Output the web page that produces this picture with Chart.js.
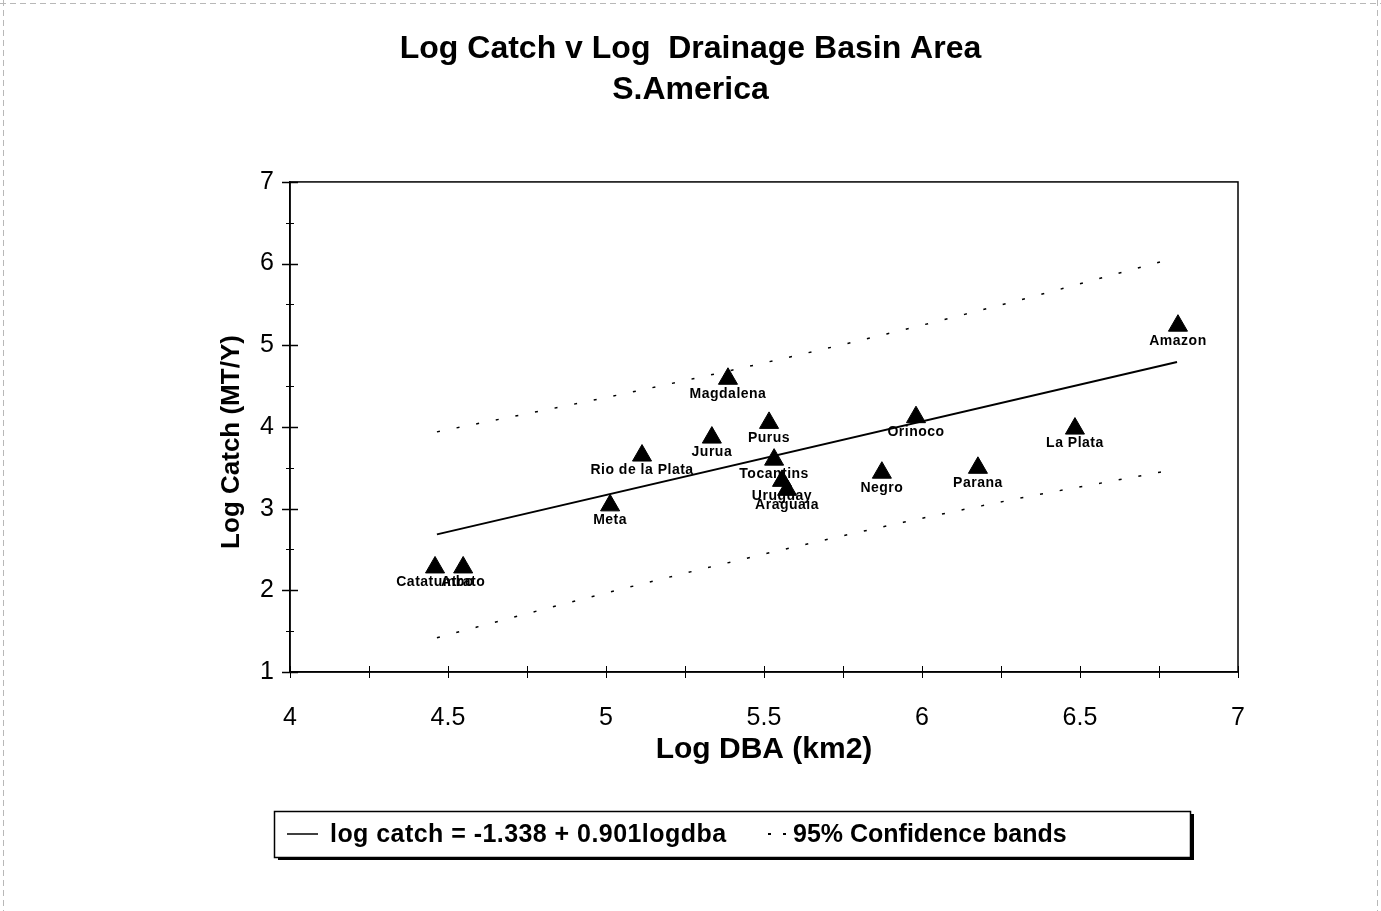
<!DOCTYPE html>
<html>
<head>
<meta charset="utf-8">
<script src="https://cdn.jsdelivr.net/npm/chart.js@4/dist/chart.umd.min.js"></script>
<style>
  html, body { margin: 0; padding: 0; background: #ffffff; }
  #wrap { width: 1381px; height: 911px; position: relative; }
  canvas { display: block; }
</style>
</head>
<body>
<div id="wrap"><canvas id="c" width="1381" height="911"></canvas></div>
<script>
// ---- Data ----
const riverNames = ['Catatumbo', 'Atrato', 'Meta', 'Rio de la Plata', 'Jurua', 'Magdalena', 'Purus',
  'Tocantins', 'Uruguay', 'Araguaia', 'Negro', 'Orinoco', 'Parana', 'La Plata', 'Amazon'];
const logDBA   = [4.459, 4.548, 5.013, 5.114, 5.335, 5.386, 5.516, 5.532, 5.557, 5.573, 5.873, 5.981, 6.177, 6.484, 6.810];
const logCatch = [2.28, 2.28, 3.04, 3.65, 3.87, 4.59, 4.05, 3.60, 3.34, 3.23, 3.44, 4.12, 3.50, 3.98, 5.24];

const fitX = [4.465, 6.807];
const fitY = [2.685, 4.795];

const upperBandX = [4.465, 5.085, 5.718, 6.247, 6.753];
const upperBandY = [3.94, 4.43, 4.98, 5.49, 6.02];
const lowerBandX = [4.465, 5.013, 5.718, 6.247, 6.759];
const lowerBandY = [1.42, 1.98, 2.64, 3.08, 3.45];

const xTickLabels = ['4', '4.5', '5', '5.5', '6', '6.5', '7'];
const yTickLabels = ['1', '2', '3', '4', '5', '6', '7'];

const titleLines = ['Log Catch v Log  Drainage Basin Area', 'S.America'];
const xAxisTitle = 'Log DBA (km2)';
const yAxisTitle = 'Log Catch (MT/Y)';
const legendLabels = ['log catch = -1.338 + 0.901logdba', '95% Confidence bands'];

const xRange = [4, 7];
const yRange = [1, 7];

// ---- helpers ----
const toPts = (xs, ys) => xs.map((x, i) => ({ x: x, y: ys[i] }));
const FONT = "'Liberation Sans', Arial, Helvetica, sans-serif";

// frame, tick marks, point labels, axis title, legend
const decorPlugin = {
  id: 'decor',
  afterDatasetsDraw(chart) {
    const { ctx, chartArea: a, scales: { x, y } } = chart;
    ctx.save();
    // plot frame
    ctx.strokeStyle = '#000';
    ctx.lineWidth = 1.5;
    ctx.strokeRect(a.left, a.top, a.right - a.left, a.bottom - a.top);
    // x tick marks (major 0.5, minor 0.25), crossing the axis
    ctx.lineWidth = 1;
    for (let v = xRange[0]; v <= xRange[1] + 1e-9; v += 0.25) {
      const px = Math.round(x.getPixelForValue(v)) + 0.5;
      ctx.beginPath();
      ctx.moveTo(px, a.bottom - 6);
      ctx.lineTo(px, a.bottom + 6);
      ctx.stroke();
    }
    // y tick marks (major 1, minor 0.5)
    for (let v = yRange[0]; v <= yRange[1] + 1e-9; v += 0.5) {
      const py = Math.round(y.getPixelForValue(v)) + 0.5;
      const major = Math.abs(v - Math.round(v)) < 1e-9;
      const len = major ? 8 : 4;
      ctx.lineWidth = major ? 1.5 : 1;
      ctx.beginPath();
      ctx.moveTo(a.left - len, py);
      ctx.lineTo(a.left + len, py);
      ctx.stroke();
    }
    // point labels
    const meta = chart.getDatasetMeta(0);
    ctx.fillStyle = '#000';
    ctx.font = 'bold 14px ' + FONT;
    ctx.textAlign = 'center';
    ctx.textBaseline = 'middle';
    try { ctx.letterSpacing = '0.5px'; } catch (e) {}
    meta.data.forEach((el, i) => {
      ctx.fillText(riverNames[i], el.x, el.y + 15);
    });
    try { ctx.letterSpacing = '0px'; } catch (e) {}
    // y axis title (rotated)
    ctx.save();
    ctx.translate(232, 442);
    ctx.rotate(-Math.PI / 2);
    ctx.font = 'bold 26px ' + FONT;
    ctx.textAlign = 'center';
    ctx.textBaseline = 'middle';
    ctx.fillText(yAxisTitle, 0, 0);
    ctx.restore();
    ctx.restore();
  },
  afterDraw(chart) {
    const { ctx } = chart;
    ctx.save();
    // scan-like faint page border
    ctx.strokeStyle = '#b8b8b8';
    ctx.lineWidth = 1;
    ctx.setLineDash([6, 4]);
    ctx.beginPath();
    ctx.moveTo(0, 3.5); ctx.lineTo(1381, 3.5);
    ctx.moveTo(3.5, 0); ctx.lineTo(3.5, 911);
    ctx.moveTo(1377.5, 0); ctx.lineTo(1377.5, 911);
    ctx.stroke();
    ctx.setLineDash([]);
    // legend box with shadow
    const bx = 274, by = 811, bw = 916, bh = 46;
    ctx.fillStyle = '#000';
    ctx.fillRect(bx + 4, by + 3, bw, bh);
    ctx.fillStyle = '#fff';
    ctx.fillRect(bx, by, bw, bh);
    ctx.strokeStyle = '#000';
    ctx.lineWidth = 1.5;
    ctx.strokeRect(bx + 0.5, by + 0.5, bw, bh);
    const cy = by + bh / 2;
    // solid line sample
    ctx.lineWidth = 1.5;
    ctx.beginPath();
    ctx.moveTo(287, cy); ctx.lineTo(318, cy);
    ctx.stroke();
    ctx.font = 'bold 25px ' + FONT;
    ctx.fillStyle = '#000';
    ctx.textAlign = 'left';
    ctx.textBaseline = 'middle';
    try { ctx.letterSpacing = '0.45px'; } catch (e) {}
    ctx.fillText(legendLabels[0], 330, cy + 1);
    try { ctx.letterSpacing = '0px'; } catch (e) {}
    // dotted sample
    ctx.fillRect(768, cy - 1, 3, 2);
    ctx.fillRect(783, cy - 1, 3, 2);
    ctx.fillText(legendLabels[1], 793, cy + 1);
    ctx.restore();
  }
};

new Chart(document.getElementById('c'), {
  type: 'scatter',
  data: {
    datasets: [
      {
        label: 'Rivers',
        data: toPts(logDBA, logCatch),
        pointStyle: 'triangle',
        pointRadius: 11,
        pointHoverRadius: 11,
        backgroundColor: '#000',
        borderColor: '#000',
        borderWidth: 1,
        showLine: false
      },
      {
        label: legendLabels[0],
        data: toPts(fitX, fitY),
        showLine: true,
        borderColor: '#000',
        borderWidth: 2,
        pointRadius: 0,
        fill: false
      },
      {
        label: legendLabels[1],
        data: toPts(upperBandX, upperBandY),
        showLine: true,
        borderColor: '#000',
        borderWidth: 1.5,
        borderDash: [3, 17],
        pointRadius: 0,
        cubicInterpolationMode: 'monotone',
        fill: false
      },
      {
        label: legendLabels[1] + ' (lower)',
        data: toPts(lowerBandX, lowerBandY),
        showLine: true,
        borderColor: '#000',
        borderWidth: 1.5,
        borderDash: [3, 17],
        pointRadius: 0,
        cubicInterpolationMode: 'monotone',
        fill: false
      }
    ]
  },
  options: {
    responsive: false,
    animation: false,
    devicePixelRatio: 1,
    layout: { padding: { left: 0, right: 0, top: 0, bottom: 139 } },
    plugins: {
      legend: { display: false },
      tooltip: { enabled: false },
      title: {
        display: true,
        text: titleLines,
        color: '#000',
        font: { family: FONT, size: 32, weight: 'bold', lineHeight: 1.28 },
        padding: { top: 29, bottom: 71 }
      }
    },
    scales: {
      x: {
        type: 'linear',
        min: xRange[0], max: xRange[1],
        ticks: {
          stepSize: 0.5,
          color: '#000',
          font: { family: FONT, size: 25 },
          padding: 31,
          maxRotation: 0,
          autoSkip: false,
          callback: (v, i) => xTickLabels[i]
        },
        grid: { display: true, drawOnChartArea: false, drawTicks: false },
        border: { display: true, color: '#000', width: 1.5 },
        title: {
          display: true,
          text: xAxisTitle,
          color: '#000',
          font: { family: FONT, size: 30, weight: 'bold', lineHeight: 1.2 },
          padding: { top: 0, bottom: 4 }
        },
        afterFit(scale) { scale.height = 100; }
      },
      y: {
        type: 'linear',
        min: yRange[0], max: yRange[1],
        ticks: {
          stepSize: 1,
          color: '#000',
          font: { family: FONT, size: 25 },
          padding: 16,
          callback: (v, i) => yTickLabels[i]
        },
        grid: { display: true, drawOnChartArea: false, drawTicks: false },
        border: { display: true, color: '#000', width: 1.5 },
        title: { display: false },
        afterFit(scale) { scale.width = 290; }
      },
      yRight: {
        type: 'linear',
        position: 'right',
        min: yRange[0], max: yRange[1],
        ticks: { display: false },
        grid: { display: false, drawTicks: false },
        border: { display: false },
        afterFit(scale) { scale.width = 143; }
      }
    }
  },
  plugins: [decorPlugin]
});
</script>
</body>
</html>
